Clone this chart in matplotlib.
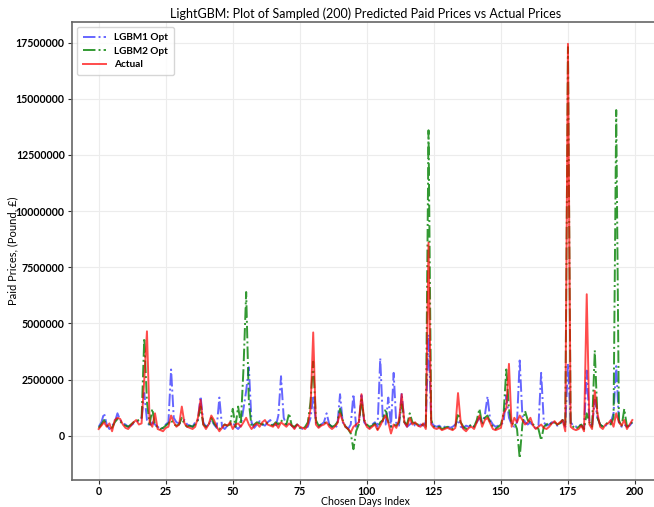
import numpy as np
import matplotlib
matplotlib.use("Agg")
import matplotlib.pyplot as plt

plt.rcParams['font.family'] = ['Lato', 'DejaVu Sans']

title = "LightGBM: Plot of Sampled (200) Predicted Paid Prices vs Actual Prices"
xlabel = "Chosen Days Index"
ylabel = "Paid Prices, (Pound, £)"
yticks = [0, 2500000, 5000000, 7500000, 10000000, 12500000, 15000000, 17500000]
xticks = [0, 25, 50, 75, 100, 125, 150, 175, 200]

# values in millions of pounds
actual_m = [
    0.30, 0.45, 0.60, 0.40, 0.55, 0.20, 0.70, 0.80, 0.75, 0.50,
    0.35, 0.30, 0.45, 0.60, 0.70, 0.50, 0.55, 2.50, 4.65, 0.60,
    0.40, 1.00, 0.30, 0.25, 0.20, 0.35, 0.40, 0.90, 0.60, 0.40,
    0.50, 1.30, 0.55, 0.40, 0.35, 0.30, 0.40, 0.80, 1.60, 0.50,
    0.30, 0.50, 0.90, 0.70, 0.40, 0.20, 0.35, 0.50, 0.45, 0.60,
    0.30, 0.50, 0.55, 0.40, 0.60, 0.80, 0.50, 0.30, 0.45, 0.55,
    0.40, 0.60, 0.70, 0.50, 0.45, 0.40, 0.55, 0.35, 0.60, 0.50,
    0.40, 0.55, 0.45, 0.30, 0.50, 0.40, 0.35, 0.30, 0.50, 1.20,
    4.60, 0.50, 0.35, 0.45, 0.50, 0.60, 0.40, 0.30, 0.40, 0.55,
    1.00, 0.65, 0.40, 0.30, 0.15, 0.40, 0.50, 0.60, 1.85, 0.70,
    0.40, 0.30, 0.40, 0.50, 0.25, 0.45, 0.70, 0.90, 0.60, 0.10,
    0.50, 0.35, 0.70, 1.85, 0.60, 0.40, 0.80, 0.50, 0.60, 0.45,
    0.40, 0.55, 0.30, 8.60, 0.50, 0.35, 0.30, 0.35, 0.25, 0.30,
    0.35, 0.30, 0.25, 0.35, 1.90, 0.60, 0.30, 0.20, 0.35, 0.40,
    0.30, 0.60, 0.90, 0.40, 0.70, 0.80, 0.55, 0.30, 0.25, 0.30,
    0.35, 1.00, 1.20, 3.20, 0.40, 0.80, 0.60, 0.90, 0.70, 0.50,
    0.60, 0.80, 0.45, 0.30, 0.40, 0.50, 0.35, 0.30, 0.40, 0.55,
    0.65, 0.50, 0.60, 0.70, 0.20, 17.45, 0.40, 0.30, 0.25, 0.30,
    0.45, 0.20, 6.30, 0.50, 0.30, 2.00, 1.00, 0.40, 0.30, 0.50,
    0.55, 0.70, 0.40, 1.00, 0.60, 0.45, 0.70, 0.30, 0.50, 0.70,
]

lgbm1_m = [
    0.40, 0.60, 1.00, 0.50, 0.30, 0.45, 0.60, 1.00, 0.70, 0.55,
    0.50, 0.40, 0.45, 0.55, 0.60, 0.70, 0.80, 1.90, 0.70, 0.40,
    0.60, 0.50, 0.40, 0.30, 0.35, 0.50, 0.60, 2.95, 0.80, 0.60,
    0.55, 0.60, 0.70, 0.50, 0.45, 0.40, 0.60, 0.70, 1.75, 0.60,
    0.40, 0.50, 0.70, 0.50, 0.35, 1.70, 0.40, 0.30, 0.45, 0.50,
    0.60, 0.40, 0.30, 0.45, 1.20, 2.00, 3.05, 0.60, 0.35, 0.50,
    0.65, 0.50, 0.45, 0.60, 0.70, 0.50, 0.40, 0.90, 2.65, 0.80,
    0.50, 0.55, 0.45, 0.35, 0.50, 0.40, 0.30, 0.35, 0.40, 0.80,
    1.70, 0.60, 0.40, 0.50, 0.60, 1.00, 0.50, 0.40, 0.35, 0.45,
    1.85, 0.60, 0.45, 0.30, 0.50, 1.85, 0.40, 0.50, 1.80, 0.60,
    0.45, 0.35, 0.50, 0.60, 0.40, 3.45, 0.60, 0.50, 1.70, 0.40,
    2.80, 0.50, 0.45, 1.90, 0.60, 0.40, 0.50, 0.60, 0.45, 0.40,
    0.50, 0.45, 0.60, 4.50, 0.60, 0.45, 0.40, 0.45, 0.35, 0.40,
    0.45, 0.35, 0.40, 0.50, 0.70, 0.40, 0.35, 0.45, 0.40, 0.50,
    0.40, 0.60, 0.80, 0.60, 0.90, 1.75, 0.70, 0.50, 0.40, 0.45,
    0.50, 0.60, 1.80, 0.80, 0.50, 0.40, 0.60, 3.35, 0.90, 0.60,
    0.50, 0.60, 0.40, 0.35, 0.45, 2.80, 0.60, 0.45, 0.50, 0.60,
    0.55, 0.45, 0.50, 0.70, 0.40, 3.20, 0.60, 0.45, 0.40, 0.50,
    0.45, 0.30, 2.90, 0.60, 0.40, 1.60, 0.80, 0.50, 0.40, 0.45,
    0.50, 0.60, 1.00, 3.10, 0.60, 0.40, 0.50, 0.40, 0.45, 0.60,
]

lgbm2_m = [
    0.35, 0.50, 0.70, 0.45, 0.40, 0.35, 0.60, 0.75, 0.65, 0.50,
    0.45, 0.40, 0.50, 0.60, 0.65, 0.70, 0.75, 4.35, 1.50, 0.50,
    1.20, 0.45, 0.40, 0.30, 0.35, 0.45, 0.55, 0.70, 0.50, 0.45,
    0.50, 0.80, 0.50, 0.40, 0.45, 0.40, 0.50, 0.70, 1.30, 0.50,
    0.40, 0.45, 0.80, 0.55, 0.40, 0.30, 0.40, 0.50, 0.45, 0.50,
    1.20, 0.40, 1.30, 0.50, 3.00, 6.40, 1.50, 0.40, 0.50, 0.60,
    0.55, 0.50, 0.60, 0.55, 0.50, 0.45, 0.60, 0.50, 0.70, 0.55,
    0.50, 1.00, 0.45, 0.40, 0.50, 0.35, 0.30, 0.40, 0.60, 1.50,
    3.30, 0.70, 0.45, 0.50, 0.55, 0.60, 0.50, 0.40, 0.45, 0.60,
    1.20, 0.70, 0.40, 0.30, 0.10, -0.60, 0.20, 0.50, 1.60, 0.70,
    0.50, 0.40, 0.45, 0.55, 0.30, 0.60, 0.70, 1.20, 0.60, 0.40,
    0.50, 0.45, 0.60, 1.40, 0.60, 0.50, 1.00, 0.60, 0.55, 0.50,
    0.45, 0.50, 0.40, 13.60, 0.70, 0.40, 0.35, 0.40, 0.30, 0.35,
    0.40, 0.35, 0.30, 0.40, 1.00, 0.60, 0.40, 0.30, 0.40, 0.50,
    0.40, 0.70, 1.20, 0.50, 0.80, 0.90, 0.60, 0.40, 0.30, 0.40,
    0.50, 1.00, 2.95, 1.20, 0.50, 0.60, 0.30, -1.00, 0.50, 1.10,
    0.70, 0.60, 0.50, 0.40, 0.30, -0.20, 0.40, 0.50, 0.60, 0.50,
    0.60, 0.50, 0.55, 0.70, 0.40, 17.30, 0.50, 0.40, 0.30, 0.40,
    0.50, 0.30, 1.00, 0.60, 0.40, 3.80, 0.80, 0.50, 0.40, 0.50,
    0.60, 0.50, 0.80, 14.50, 0.70, 0.40, 1.20, 0.40, 0.50, 0.60,
]

idx = np.arange(len(actual_m))
actual = np.array(actual_m) * 1e6
lgbm1 = np.array(lgbm1_m) * 1e6
lgbm2 = np.array(lgbm2_m) * 1e6

W, H = 654, 507
L, R, T, B = 72, 659, 22, 480
fig = plt.figure(figsize=(W / 100, H / 100), dpi=100)
ax = fig.add_axes([L / W, 1 - B / H, (R - L) / W, (B - T) / H])

ax.plot(idx, lgbm1, color='blue', linestyle='-.', linewidth=1.4, alpha=0.6, label='LGBM1 Opt')
ax.plot(idx, lgbm2, color='green', linestyle='-.', linewidth=1.4, alpha=0.8, label='LGBM2 Opt')
ax.plot(idx, actual, color='red', linestyle='-', linewidth=1.4, alpha=0.7, label='Actual')

ax.set_xlim(-9.95, 208.95)
ax.set_ylim(-1.97e6, 18.42e6)
ax.set_xticks(xticks)
ax.set_yticks(yticks)
ax.set_yticklabels([str(v) for v in yticks])
ax.grid(True, color='#ececec', linewidth=0.8)
ax.set_axisbelow(True)
for lab in ax.get_xticklabels() + ax.get_yticklabels():
    lab.set_fontweight('bold')
    lab.set_fontsize(7.6)
for s in ax.spines.values():
    s.set_color('#666666')
    s.set_linewidth(1.2)
ax.tick_params(colors='#333333', length=3.2, width=0.8, labelcolor='black', pad=2)
ax.tick_params(axis='x', pad=1.0)

ax.set_title(title, fontsize=9.0, pad=3)
ax.set_xlabel(xlabel, fontsize=7.6)
ax.set_ylabel(ylabel, fontsize=8.0)
ax.xaxis.set_label_coords((365 - L) / (R - L), -(496.4 - B) / (B - T))
ax.yaxis.set_label_coords(-(L - 18) / (R - L), 0.5)

leg = ax.legend(loc='upper left', prop={'weight': 'bold', 'size': 7.2},
                frameon=True, fancybox=True, edgecolor='#cccccc', borderpad=0.6,
                handlelength=2.3, labelspacing=0.45, borderaxespad=0.5)

fig.savefig('out.png', dpi=100)
